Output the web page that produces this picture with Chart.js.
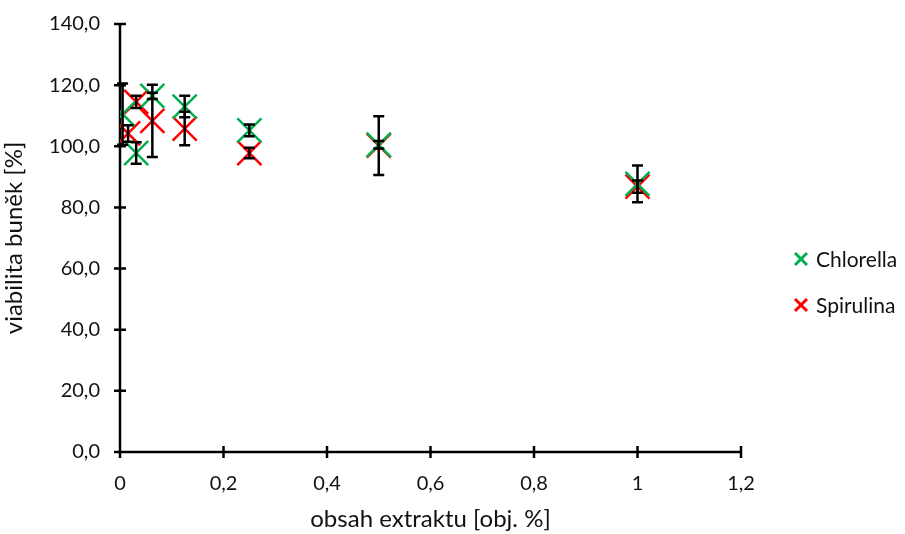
<!DOCTYPE html>
<html>
<head>
<meta charset="utf-8">
<script src="https://cdn.jsdelivr.net/npm/chart.js@4.4.1/dist/chart.umd.min.js"></script>
<style>
  html, body { margin: 0; padding: 0; background: #fff; }
  #wrap { position: relative; width: 905px; height: 534px; }
</style>
</head>
<body>
<div id="wrap"><canvas id="c" width="905" height="534"></canvas></div>
<script>
// Extract content [obj. %] and cell viability [%] with standard deviations
const chlorellaX   = [0.005, 0.03125, 0.0625, 0.125, 0.25, 0.5, 1];
const chlorellaY   = [110.5, 97.8, 116.5, 113.0, 105.2, 100.5, 87.7];
const chlorellaErr = [10.0, 3.5, 1.0, 3.5, 1.9, 1.2, 6.0];

const spirulinaX   = [0.0156, 0.03125, 0.0625, 0.125, 0.25, 0.5, 1];
const spirulinaY   = [104.2, 114.5, 108.3, 105.8, 97.8, 100.2, 86.8];
const spirulinaErr = [2.7, 2.0, 11.8, 5.5, 1.7, 9.6, 2.0];

const xTicks = [0, 0.2, 0.4, 0.6, 0.8, 1, 1.2];
const yTicks = [0, 20, 40, 60, 80, 100, 120, 140];

const seriesNames  = ['Chlorella', 'Spirulina'];
const seriesColors = ['#00B050', '#FF0000'];

const FONT = "Lato, 'Open Sans', sans-serif";
const TICK_SIZE = 20;
const TITLE_SIZE = 24;
const TEXT_COLOR = '#111';

function pts(xs, ys) { return xs.map((x, i) => ({ x: x, y: ys[i] })); }

const errors = [chlorellaErr, spirulinaErr];

// Vertical error bars with caps, drawn through the chart's scales
const errorBars = {
  id: 'errorBars',
  afterDatasetsDraw(chart) {
    const { ctx, scales: { x, y } } = chart;
    ctx.save();
    ctx.strokeStyle = '#000';
    ctx.lineWidth = 2.5;
    chart.data.datasets.forEach((ds, di) => {
      const err = errors[di];
      ds.data.forEach((p, i) => {
        const px = x.getPixelForValue(p.x);
        const top = y.getPixelForValue(p.y + err[i]);
        const bot = y.getPixelForValue(p.y - err[i]);
        ctx.beginPath();
        ctx.moveTo(px, top); ctx.lineTo(px, bot);
        ctx.moveTo(px - 5.5, top); ctx.lineTo(px + 5.5, top);
        ctx.moveTo(px - 5.5, bot); ctx.lineTo(px + 5.5, bot);
        ctx.stroke();
      });
    });
    ctx.restore();
  }
};

// Axis lines with tick marks crossing them
const crossAxes = {
  id: 'crossAxes',
  beforeDatasetsDraw(chart) {
    const { ctx, chartArea: a, scales: { x, y } } = chart;
    ctx.save();
    ctx.strokeStyle = '#000';
    ctx.lineWidth = 2.5;
    ctx.beginPath();
    ctx.moveTo(a.left, a.top); ctx.lineTo(a.left, a.bottom);
    ctx.moveTo(a.left - 1, a.bottom); ctx.lineTo(a.right, a.bottom);
    yTicks.forEach(v => {
      const py = y.getPixelForValue(v);
      ctx.moveTo(a.left - 6, py); ctx.lineTo(a.left + 6, py);
    });
    xTicks.forEach(v => {
      const px = x.getPixelForValue(v);
      ctx.moveTo(px, a.bottom - 6); ctx.lineTo(px, a.bottom + 6);
    });
    ctx.stroke();
    ctx.restore();
  }
};

// Legend at the right side
const sideLegend = {
  id: 'sideLegend',
  afterDraw(chart) {
    const { ctx } = chart;
    ctx.save();
    const rows = [259, 305];
    seriesNames.forEach((name, i) => {
      const cx = 801, cy = rows[i];
      ctx.strokeStyle = seriesColors[i];
      ctx.lineWidth = 3;
      ctx.beginPath();
      ctx.moveTo(cx - 6, cy - 6); ctx.lineTo(cx + 6, cy + 6);
      ctx.moveTo(cx - 6, cy + 6); ctx.lineTo(cx + 6, cy - 6);
      ctx.stroke();
      ctx.fillStyle = TEXT_COLOR;
      ctx.font = '21px ' + FONT;
      ctx.textBaseline = 'middle';
      ctx.textAlign = 'left';
      ctx.fillText(name, 816, cy + 1);
    });
    ctx.restore();
  }
};

const fmt = v => v.toFixed(1).replace('.', ',');
const fmtX = v => String(+v.toFixed(1)).replace('.', ',');

const markerStyle = {
  pointStyle: 'crossRot',
  pointRadius: 17,
  pointHoverRadius: 17,
  pointBorderWidth: 2.5,
  borderWidth: 2.5
};

new Chart(document.getElementById('c'), {
  type: 'scatter',
  data: {
    datasets: [
      Object.assign({
        label: seriesNames[0],
        data: pts(chlorellaX, chlorellaY),
        borderColor: seriesColors[0],
        backgroundColor: seriesColors[0]
      }, markerStyle),
      Object.assign({
        label: seriesNames[1],
        data: pts(spirulinaX, spirulinaY),
        borderColor: seriesColors[1],
        backgroundColor: seriesColors[1]
      }, markerStyle)
    ]
  },
  options: {
    responsive: false,
    animation: false,
    events: [],
    layout: { padding: { top: 18, right: 164, left: 0, bottom: 0 } },
    plugins: { legend: { display: false }, tooltip: { enabled: false } },
    scales: {
      x: {
        type: 'linear',
        min: 0, max: 1.2,
        afterBuildTicks: s => { s.ticks = xTicks.map(v => ({ value: v })); },
        afterFit: s => { s.height = 82; },
        border: { display: false },
        grid: { display: false },
        ticks: {
          padding: 12,
          color: TEXT_COLOR,
          font: { family: FONT, size: TICK_SIZE },
          callback: v => fmtX(v),
          maxRotation: 0
        },
        title: {
          display: true,
          text: 'obsah extraktu [obj. %]',
          color: TEXT_COLOR,
          font: { family: FONT, size: TITLE_SIZE },
          padding: { top: 0, bottom: 0 }
        }
      },
      y: {
        type: 'linear',
        min: 0, max: 140,
        afterBuildTicks: s => { s.ticks = yTicks.map(v => ({ value: v })); },
        afterFit: s => { s.width = 120; },
        border: { display: false },
        grid: { display: false },
        ticks: {
          padding: 12,
          color: TEXT_COLOR,
          font: { family: FONT, size: TICK_SIZE },
          callback: v => fmt(v)
        },
        title: {
          display: true,
          text: 'viabilita buněk [%]',
          color: TEXT_COLOR,
          font: { family: FONT, size: TITLE_SIZE },
          padding: { top: 0, bottom: 6 }
        }
      }
    }
  },
  plugins: [crossAxes, errorBars, sideLegend]
});
</script>
</body>
</html>
